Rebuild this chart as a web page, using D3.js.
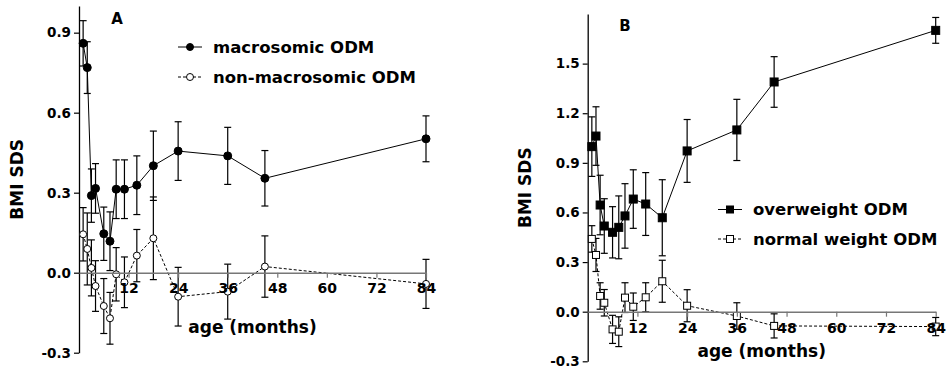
<!DOCTYPE html>
<html>
<head>
<meta charset="utf-8">
<script src="https://d3js.org/d3.v7.min.js"></script>
<style>
  body { margin: 0; background: #fff; }
  text { font-family: "DejaVu Sans", Verdana, sans-serif; font-weight: bold; }
</style>
</head>
<body>
<div class="main"></div>
<script>
// ages (months) of the visits, same in both panels
const months = [1, 2, 3, 4, 6, 7.5, 9, 11, 14, 18, 24, 36, 45, 84];
const xTicks = [12, 24, 36, 48, 60, 72, 84];

// panel A
const macroMean = [0.86, 0.769, 0.289, 0.316, 0.146, 0.118, 0.313, 0.313, 0.328, 0.401, 0.456, 0.438, 0.354, 0.502];
const macroErr  = [0.085, 0.097, 0.10, 0.093, 0.10, 0.11, 0.11, 0.11, 0.11, 0.13, 0.11, 0.107, 0.104, 0.086];
const nonMacroMean = [0.144, 0.089, 0.018, -0.05, -0.125, -0.171, -0.006, -0.036, 0.064, 0.129, -0.09, -0.071, 0.023, -0.042];
const nonMacroErr  = [0.10, 0.135, 0.105, 0.095, 0.103, 0.097, 0.10, 0.095, 0.098, 0.155, 0.11, 0.103, 0.115, 0.092];
const yTicksA = [-0.3, 0, 0.3, 0.6, 0.9];

// panel B
const overMean = [0.998, 1.062, 0.645, 0.518, 0.48, 0.51, 0.579, 0.681, 0.651, 0.568, 0.972, 1.099, 1.389, 1.701];
const overErr  = [0.18, 0.177, 0.18, 0.165, 0.155, 0.19, 0.195, 0.177, 0.19, 0.23, 0.19, 0.185, 0.153, 0.078];
const normalMean = [0.44, 0.343, 0.095, 0.054, -0.107, -0.121, 0.085, 0.03, 0.087, 0.184, 0.036, -0.026, -0.086, -0.09];
const normalErr  = [0.08, 0.10, 0.08, 0.08, 0.085, 0.09, 0.09, 0.083, 0.088, 0.127, 0.097, 0.08, 0.073, 0.055];
const yTicksB = [-0.3, 0, 0.3, 0.6, 0.9, 1.2, 1.5];

let width = 946, height = 368;

let svg = d3.select("div.main").append("svg")
  .attr("width", width)
  .attr("height", height);

function panel(p) {
  let x = d3.scaleLinear().domain([0, 84]).range(p.xr);
  let y = d3.scaleLinear().domain(p.yd).range(p.yr);
  let g = svg.append("g");

  // horizontal axis sits at zero
  let xa = g.append("g")
    .attr("transform", "translate(0," + y(0) + ")")
    .call(d3.axisBottom(x).tickValues(xTicks).tickSize(5).tickSizeOuter(0).tickPadding(p.pad));
  xa.select(".domain").attr("stroke", "#777").attr("stroke-width", 1.5);
  xa.selectAll(".tick line").attr("stroke", "#777").attr("stroke-width", 1.2);
  xa.selectAll("text").attr("font-size", 14).attr("fill", "#000");

  let ya = g.append("g")
    .attr("transform", "translate(" + x(0) + ",0)")
    .call(d3.axisLeft(y).tickValues(p.yticks).tickSize(5).tickSizeOuter(0).tickPadding(3)
      .tickFormat(d => d.toFixed(1)));
  ya.select(".domain").attr("stroke", "#000").attr("stroke-width", 1.3);
  ya.selectAll(".tick line").attr("stroke-width", 1.2);
  ya.selectAll("text").attr("font-size", 13.5).attr("fill", "#000");

  // titles
  g.append("text")
    .attr("x", d3.mean(p.xr))
    .attr("y", p.xlabY)
    .attr("text-anchor", "middle")
    .attr("font-size", 17)
    .text("age (months)");
  g.append("text")
    .attr("transform", "translate(" + p.ylabX + "," + d3.mean(p.yr) + ") rotate(-90)")
    .attr("text-anchor", "middle")
    .attr("font-size", 17)
    .text("BMI SDS");
  g.append("text")
    .attr("x", p.letter[0])
    .attr("y", p.letter[1])
    .attr("text-anchor", "middle")
    .attr("font-size", 15)
    .text(p.name);

  p.series.forEach(function(s) {
    let pts = months.map((m, i) => ({m: m, v: s.mean[i], e: s.err[i]}));

    g.append("path")
      .datum(pts)
      .attr("fill", "none")
      .attr("stroke", "#000")
      .attr("stroke-width", 1)
      .attr("stroke-dasharray", s.open ? "3,2" : null)
      .attr("d", d3.line().x(d => x(d.m)).y(d => y(d.v)));

    // error bars with caps
    let eb = g.append("g").attr("stroke", "#000").attr("stroke-width", 1.2);
    eb.selectAll("line.v").data(pts).enter().append("line")
      .attr("x1", d => x(d.m)).attr("x2", d => x(d.m))
      .attr("y1", d => y(d.v - d.e)).attr("y2", d => y(d.v + d.e));
    [1, -1].forEach(function(sg) {
      eb.selectAll("line.c" + sg).data(pts).enter().append("line")
        .attr("x1", d => x(d.m) - 3.5).attr("x2", d => x(d.m) + 3.5)
        .attr("y1", d => y(d.v + sg * d.e)).attr("y2", d => y(d.v + sg * d.e));
    });

    let mk = g.append("g");
    pts.forEach(function(d) { marker(mk, p.shape, s.open, x(d.m), y(d.v), s.open ? p.size - 1 : p.size); });

    // legend row
    g.append("line")
      .attr("x1", s.leg[0]).attr("x2", s.leg[0] + 24)
      .attr("y1", s.leg[1]).attr("y2", s.leg[1])
      .attr("stroke", "#000").attr("stroke-width", 1)
      .attr("stroke-dasharray", s.open ? "3,2" : null);
    marker(g, p.shape, s.open, s.leg[0] + 12, s.leg[1], p.size - 1);
    g.append("text")
      .attr("x", s.leg[0] + 35)
      .attr("y", s.leg[1])
      .attr("dy", "0.36em")
      .attr("font-size", 16.5)
      .text(s.label);
  });

  // tick labels sit on top of the markers, like the original
  xa.raise();
}

function marker(g, shape, open, cx, cy, size) {
  if (shape == "circle") {
    g.append("circle")
      .attr("cx", cx).attr("cy", cy).attr("r", size / 2)
      .attr("fill", open ? "#fff" : "#000")
      .attr("stroke", "#000").attr("stroke-width", 1);
  } else {
    g.append("rect")
      .attr("x", cx - size / 2).attr("y", cy - size / 2)
      .attr("width", size).attr("height", size)
      .attr("fill", open ? "#fff" : "#000")
      .attr("stroke", "#000").attr("stroke-width", 1);
  }
}

panel({
  name: "A", letter: [117, 24],
  xr: [79, 426], yd: [-0.3, 1.0], yr: [352.7, 6], yticks: yTicksA, pad: 5,
  xlabY: 333, ylabX: 23,
  shape: "circle", size: 8,
  series: [
    {label: "macrosomic ODM", mean: macroMean, err: macroErr, open: false, leg: [178, 47]},
    {label: "non-macrosomic ODM", mean: nonMacroMean, err: nonMacroErr, open: true, leg: [178, 77]}
  ]
});

panel({
  name: "B", letter: [625, 31],
  xr: [587.7, 935.7], yd: [-0.3, 1.8], yr: [361.3, 14], yticks: yTicksB, pad: 6,
  xlabY: 357, ylabX: 531,
  shape: "square", size: 8,
  series: [
    {label: "overweight ODM", mean: overMean, err: overErr, open: false, leg: [718, 209.5]},
    {label: "normal weight ODM", mean: normalMean, err: normalErr, open: true, leg: [718, 239]}
  ]
});
</script>
</body>
</html>
